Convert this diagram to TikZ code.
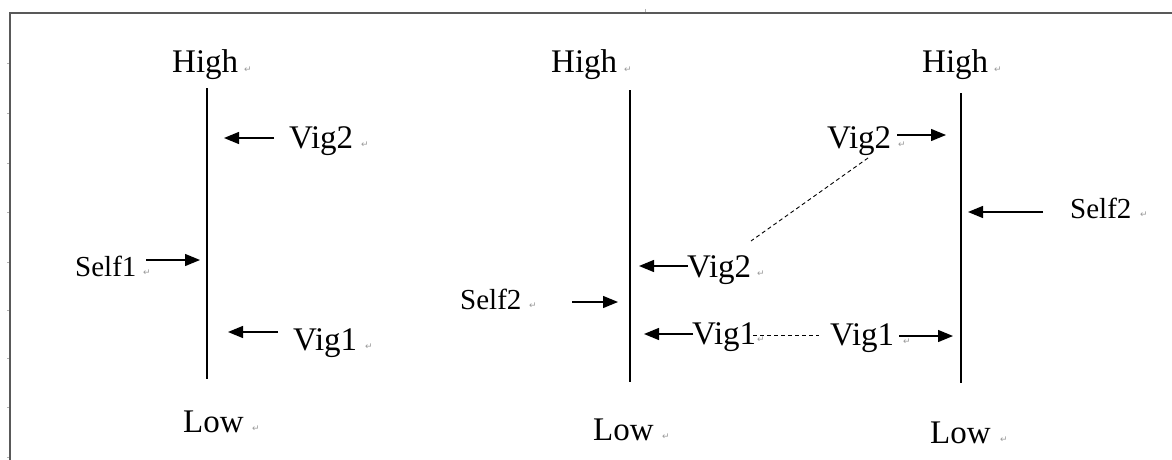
\documentclass[tikz,border=0pt]{standalone}
\usepackage{fontspec}
\setmainfont{Liberation Serif}
\newfontfamily\markfont{DejaVu Sans}
\usetikzlibrary{arrows.meta}

\newcommand{\bigfont}{\fontsize{33}{38}\selectfont}
\newcommand{\smfont}{\fontsize{29}{34}\selectfont}

\tikzset{
  lbl/.style={font=\bigfont, inner sep=0pt, anchor=base west},
  slbl/.style={font=\smfont, inner sep=0pt, anchor=base west},
  ret/.style={font=\markfont\fontsize{9}{10}\selectfont, text=black!40, inner sep=0pt, anchor=base west},
  axis/.style={line width=1.3pt},
  push/.style={line width=1.3pt, -{Triangle[length=15pt,width=12pt]}},
  link/.style={line width=0.9pt, dash pattern=on 4pt off 3pt},
  frame/.style={line width=1.6pt, draw=black!65},
  tick/.style={line width=0.8pt, draw=black!30}
}

\begin{document}
\begin{tikzpicture}[x=1pt, y=-1pt]
\useasboundingbox (0,0) rectangle (1172,460);

% page frame with ruler ticks
\draw[frame] (10,460) -- (10,13) -- (1172,13);
\foreach \t in {63,113,163,212,262,310,358,407,457}
  \draw[tick] (7,\t) -- (9,\t);
\draw[tick] (645,9) -- (645,12);

% ---------- left column ----------
\coordinate (a1t) at (207,88);
\coordinate (a1b) at (207,379);
\draw[axis] (a1t) -- (a1b);
\node[lbl] (h1) at (172,73) {High};
\node[ret] at (244,72) {↵};
\node[lbl] (l1) at (183,432) {Low};
\node[ret] at (252,431) {↵};

\node[lbl] (v12) at (289,148) {Vig2};
\node[ret] at (361,147) {↵};
\coordinate (v12s) at (274,138);
\coordinate (v12e) at (224,138);
\draw[push] (v12s) -- (v12e);

\node[slbl] (s1) at (75,276) {Self1};
\node[ret] at (143,275) {↵};
\coordinate (s1s) at (146,260);
\coordinate (s1e) at (200,260);
\draw[push] (s1s) -- (s1e);

\node[lbl] (v11) at (293,350) {Vig1};
\node[ret] at (365,349) {↵};
\coordinate (v11s) at (278,332);
\coordinate (v11e) at (228,332);
\draw[push] (v11s) -- (v11e);

% ---------- middle column ----------
\coordinate (a2t) at (630,90);
\coordinate (a2b) at (630,382);
\draw[axis] (a2t) -- (a2b);
\node[lbl] (h2) at (551,73) {High};
\node[ret] at (624,72) {↵};
\node[lbl] (l2) at (593,440) {Low};
\node[ret] at (662,439) {↵};

\node[lbl] (v22) at (687,277) {Vig2};
\node[ret] at (757,276) {↵};
\coordinate (v22s) at (688,266);
\coordinate (v22e) at (639,266);
\draw[push] (v22s) -- (v22e);

\node[slbl] (s2) at (460,309) {Self2};
\node[ret] at (529,308) {↵};
\coordinate (s2s) at (572,302);
\coordinate (s2e) at (618,302);
\draw[push] (s2s) -- (s2e);

\node[lbl] (v21) at (692,344) {Vig1};
\node[ret] at (757,342) {↵};
\coordinate (v21s) at (693,334);
\coordinate (v21e) at (644,334);
\draw[push] (v21s) -- (v21e);

% ---------- right column ----------
\coordinate (a3t) at (961,93);
\coordinate (a3b) at (961,383);
\draw[axis] (a3t) -- (a3b);
\node[lbl] (h3) at (922,73) {High};
\node[ret] at (994,72) {↵};
\node[lbl] (l3) at (930,443) {Low};
\node[ret] at (1000,442) {↵};

\node[lbl] (v32) at (827,148) {Vig2};
\node[ret] at (898,147) {↵};
\coordinate (v32s) at (897,135);
\coordinate (v32e) at (946,135);
\draw[push] (v32s) -- (v32e);

\node[slbl] (s3) at (1070,218) {Self2};
\node[ret] at (1140,217) {↵};
\coordinate (s3s) at (1043,212);
\coordinate (s3e) at (968,212);
\draw[push] (s3s) -- (s3e);

\node[lbl] (v31) at (830,345) {Vig1};
\node[ret] at (903,344) {↵};
\coordinate (v31s) at (899,336);
\coordinate (v31e) at (953,336);
\draw[push] (v31s) -- (v31e);

% ---------- dashed links between the two right columns ----------
\coordinate (d2a) at (868,158);
\coordinate (d2b) at (751,241);
\draw[link] (d2a) -- (d2b);
\coordinate (d1a) at (753,335);
\coordinate (d1b) at (819,335);
\draw[link] (d1a) -- (d1b);
\end{tikzpicture}
\end{document}
